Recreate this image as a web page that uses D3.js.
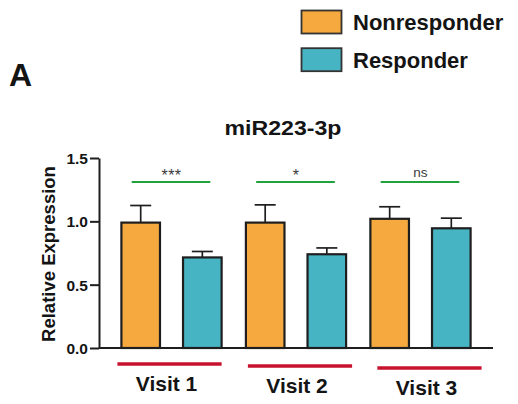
<!DOCTYPE html>
<html>
<head>
<meta charset="utf-8">
<script src="https://cdn.jsdelivr.net/npm/d3@7"></script>
<style>
  body { margin: 0; background: #fff; }
  text { font-family: Arial, "Liberation Sans", sans-serif; fill: #141414; }
</style>
</head>
<body>
<div id="chart"></div>
<script>
const visits = ["Visit 1", "Visit 2", "Visit 3"]
const groups = ["Nonresponder", "Responder"]
const nonresponderMean = [0.99, 0.99, 1.02]
const nonresponderErr = [0.135, 0.14, 0.095]
const responderMean = [0.715, 0.74, 0.945]
const responderErr = [0.047, 0.05, 0.08]
const significance = ["***", "*", "ns"]
const yTicks = [0, 0.5, 1.0, 1.5]

const colors = { Nonresponder: "#f5a93f", Responder: "#47b4c3" }
const stroke = "#1e1e1e"

const W = 518, H = 404
const margin = { top: 158, right: 25, bottom: 56, left: 99 }
const width = W - margin.left - margin.right
const height = H - margin.top - margin.bottom

// small shift of the red underline per visit, as in the figure
const underlineShift = [-1, 5, 10]

const svg = d3.select("#chart").append("svg")
  .attr("width", W)
  .attr("height", H)

const g = svg.append("g")
  .attr("transform", "translate(" + margin.left + "," + margin.top + ")")

const x0 = d3.scaleBand()
  .domain(visits)
  .range([0, width])
  .paddingInner(0.195)
  .paddingOuter(0.18)

const x1 = d3.scaleBand()
  .domain(groups)
  .range([0, x0.bandwidth()])
  .paddingInner(0.374)

const y = d3.scaleLinear()
  .domain([0, 1.5])
  .range([height, 0])

const rows = visits.map((v, i) => ({
  visit: v,
  sig: significance[i],
  bars: [
    { group: "Nonresponder", mean: nonresponderMean[i], err: nonresponderErr[i] },
    { group: "Responder", mean: responderMean[i], err: responderErr[i] }
  ]
}))

const vg = g.selectAll(".visit")
  .data(rows)
  .join("g")
  .attr("class", "visit")
  .attr("transform", d => "translate(" + x0(d.visit) + ",0)")

const bar = vg.selectAll(".bar")
  .data(d => d.bars)
  .join("g")
  .attr("class", "bar")

// error bars first so the bar outline sits on top
const capW = 21
bar.append("line")
  .attr("x1", d => x1(d.group) + x1.bandwidth() / 2)
  .attr("x2", d => x1(d.group) + x1.bandwidth() / 2)
  .attr("y1", d => y(d.mean))
  .attr("y2", d => y(d.mean + d.err))
  .attr("stroke", stroke)
  .attr("stroke-width", 1.7)

bar.append("line")
  .attr("x1", d => x1(d.group) + x1.bandwidth() / 2 - capW / 2)
  .attr("x2", d => x1(d.group) + x1.bandwidth() / 2 + capW / 2)
  .attr("y1", d => y(d.mean + d.err))
  .attr("y2", d => y(d.mean + d.err))
  .attr("stroke", stroke)
  .attr("stroke-width", 1.7)

bar.append("rect")
  .attr("x", d => x1(d.group))
  .attr("y", d => y(d.mean))
  .attr("width", x1.bandwidth())
  .attr("height", d => y(0) - y(d.mean))
  .attr("fill", d => colors[d.group])
  .attr("stroke", stroke)
  .attr("stroke-width", 2.2)

// significance lines
const sigY = y(1.31)
vg.append("line")
  .attr("x1", x1("Nonresponder") + x1.bandwidth() / 2 - 9)
  .attr("x2", x1("Responder") + x1.bandwidth() / 2 + 8)
  .attr("y1", sigY)
  .attr("y2", sigY)
  .attr("stroke", "#22a23c")
  .attr("stroke-width", 2)

vg.append("text")
  .attr("x", x0.bandwidth() / 2)
  .attr("y", d => d.sig === "ns" ? sigY - 5 : sigY - 1)
  .attr("text-anchor", "middle")
  .style("font-size", d => d.sig === "ns" ? "13.5px" : "16px")
  .style("letter-spacing", d => d.sig === "ns" ? "0px" : "0.5px")
  .style("fill", "#3a3a3a")
  .text(d => d.sig)

// red underline + visit labels
vg.append("line")
  .attr("x1", (d, i) => -3 + underlineShift[i])
  .attr("x2", (d, i) => x0.bandwidth() + 1 + underlineShift[i])
  .attr("y1", (d, i) => height + 16 + i * 2)
  .attr("y2", (d, i) => height + 16 + i * 2)
  .attr("stroke", "#c8132f")
  .attr("stroke-width", 3.5)

vg.append("text")
  .attr("x", (d, i) => x0.bandwidth() / 2 - 4 + underlineShift[i])
  .attr("y", (d, i) => height + 43 + i * 2)
  .attr("text-anchor", "middle")
  .style("font-size", "21px")
  .style("font-weight", "bold")
  .text(d => d.visit)

// axes
const yAxis = g.append("g")
  .call(d3.axisLeft(y).tickValues(yTicks).tickSize(9).tickSizeOuter(0).tickFormat(d3.format(".1f")))
yAxis.select(".domain").attr("stroke", stroke).attr("stroke-width", 2)
yAxis.selectAll(".tick line").attr("stroke", stroke).attr("stroke-width", 2)
yAxis.selectAll(".tick text")
  .attr("x", -11)
  .attr("dy", "0.36em")
  .style("font-size", "15.5px")
  .style("font-weight", "bold")
  .style("font-family", "Arial, 'Liberation Sans', sans-serif")
  .style("fill", "#141414")

g.append("line")
  .attr("x1", 0)
  .attr("x2", width)
  .attr("y1", y(0))
  .attr("y2", y(0))
  .attr("stroke", stroke)
  .attr("stroke-width", 2)

g.append("text")
  .attr("transform", "translate(-44," + (height / 2 + 1) + ") rotate(-90)")
  .attr("text-anchor", "middle")
  .style("font-size", "18.5px")
  .style("font-weight", "bold")
  .text("Relative Expression")

// title
svg.append("text")
  .attr("x", 283)
  .attr("y", 135)
  .attr("text-anchor", "middle")
  .attr("textLength", 117)
  .attr("lengthAdjust", "spacingAndGlyphs")
  .style("font-size", "19.5px")
  .style("font-weight", "bold")
  .text("miR223-3p")

// panel letter
svg.append("text")
  .attr("x", 9)
  .attr("y", 86)
  .style("font-size", "32px")
  .style("font-weight", "bold")
  .text("A")

// legend
const legend = svg.append("g")
  .attr("transform", "translate(301,10)")

const li = legend.selectAll("g")
  .data(groups)
  .join("g")
  .attr("transform", (d, i) => "translate(0," + i * 37.7 + ")")

li.append("rect")
  .attr("x", 0.5)
  .attr("y", 0.5)
  .attr("width", 40)
  .attr("height", 23)
  .attr("fill", d => colors[d])
  .attr("stroke", "#333")
  .attr("stroke-width", 1.8)

li.append("text")
  .attr("x", 52)
  .attr("y", 20)
  .style("font-size", "22px")
  .style("font-weight", "bold")
  .text(d => d)
</script>
</body>
</html>
